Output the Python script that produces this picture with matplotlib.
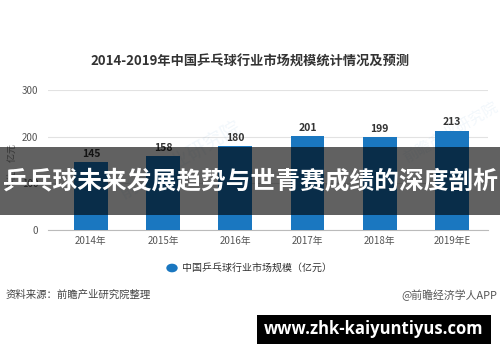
import matplotlib
matplotlib.use("Agg")
import matplotlib.pyplot as plt
from matplotlib.patches import Rectangle, Circle

plt.rcParams['font.family'] = ['Noto Sans CJK SC', 'DejaVu Sans']

# chart data
years = ["2014年", "2015年", "2016年", "2017年", "2018年", "2019年E"]
market_size = [145, 158, 180, 201, 199, 213]
y_ticks = [0, 100, 200, 300]

title = "2014-2019年中国乒乓球行业市场规模统计情况及预测"
legend_label = "中国乒乓球行业市场规模（亿元）"
unit_label = "单位：亿元"
source_text = "资料来源：前瞻产业研究院整理"
credit_text = "@前瞻经济学人APP"
banner_text = "乒乓球未来发展趋势与世青赛成绩的深度剖析"
site_text = "www.zhk-kaiyuntiyus.com"

W, H = 500, 362
fig = plt.figure(figsize=(W / 100, H / 100), dpi=100)
fig.patch.set_facecolor("white")

def px(x, y):
    # pixel (from top-left) to figure fraction
    return x / W, 1 - y / H

# axes: x from 48 to 488 px, y=0 at 230px, y=300 at 90px
ax = fig.add_axes([48 / W, (H - 230) / H, 440 / W, 140 / H])
blue = "#1a77c0"
xs = list(range(len(years)))
ax.bar(xs, market_size, width=0.47, color=blue, zorder=3)
for x, v in zip(xs, market_size):
    ax.text(x, v + 7, str(v), ha="center", va="bottom", fontsize=7.5,
            fontweight="bold", color="#333333", zorder=4)

ax.set_xlim(-0.595, 5.5)
ax.set_ylim(0, 300)
ax.set_yticks(y_ticks)
ax.set_yticklabels([str(t) for t in y_ticks], fontsize=7, color="#555555")
ax.set_xticks(xs)
ax.set_xticklabels(years, fontsize=7, color="#555555")
ax.tick_params(length=0, pad=7)
ax.tick_params(axis="x", pad=4)
ax.grid(axis="y", color="#e2e2e2", linewidth=0.8, zorder=0)
for s in ["top", "right", "left"]:
    ax.spines[s].set_visible(False)
ax.spines["bottom"].set_color("#bbbbbb")
ax.spines["bottom"].set_linewidth(0.8)
ax.set_facecolor("none")

fig.text(*px(12, 165), unit_label, rotation=90, ha="center", va="center",
         fontsize=6.5, color="#888888")

fig.text(*px(250, 62), title, ha="center", va="center", fontsize=9.5,
         fontweight="bold", color="#333333")

# faint watermark
fig.text(*px(180, 160), "前瞻产业研究院", rotation=30, ha="center", va="center",
         fontsize=14, color="#1a77c0", alpha=0.06)
fig.text(*px(450, 132), "前瞻产业研究院", rotation=30, ha="center", va="center",
         fontsize=11, color="#1a77c0", alpha=0.06)

# legend
fig.patches.append(Circle(px(172, 268), 5 / W, transform=fig.transFigure,
                          color=blue))
fig.text(*px(182, 268), legend_label, ha="left", va="center", fontsize=7.2,
         color="#333333")

fig.text(*px(6, 295), source_text, ha="left", va="center", fontsize=7.5,
         color="#444444")
fig.text(*px(497, 295), credit_text, ha="right", va="center", fontsize=7.8,
         color="#555555")

# dark overlay band with title text
fig.patches.append(Rectangle(px(0, 215), 1, 68 / H, transform=fig.transFigure,
                             facecolor="black", alpha=0.62, zorder=10))
fig.text(*px(250, 181), banner_text, ha="center", va="center", fontsize=17.8,
         fontweight="bold", color="white", zorder=11)

# black box with site url
fig.patches.append(Rectangle(px(257, 344), 234 / W, 29 / H,
                             transform=fig.transFigure, facecolor="black",
                             zorder=10))
fig.text(*px(374, 329), site_text, ha="center", va="center", fontsize=12,
         fontweight="bold", color="white", zorder=11,
         family=["Open Sans", "DejaVu Sans"])

fig.savefig("out.png", dpi=100)
